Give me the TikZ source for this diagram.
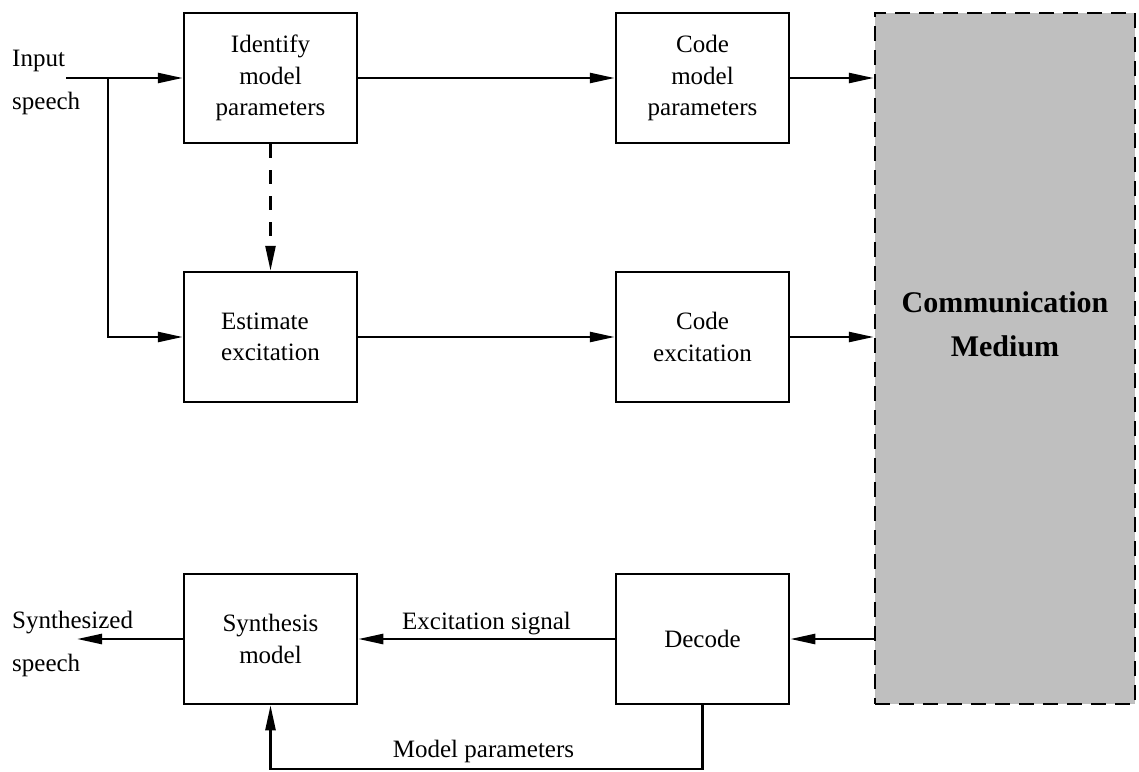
\documentclass[tikz,border=0pt]{standalone}
\usepackage{fontspec}
\setmainfont{Liberation Serif}
\usetikzlibrary{arrows.meta}
\definecolor{mediumgray}{RGB}{191,191,191}
\tikzset{
  blk/.style={draw, line width=2.5pt, minimum width=173pt, minimum height=130pt,
    inner sep=0pt, align=center, font=\fontsize{25}{31.5}\selectfont},
  wire/.style={line width=2.5pt},
  arr/.style={wire, -{Triangle[length=25pt,width=10pt]}},
  iolabel/.style={inner sep=0pt, align=left, font=\fontsize{25}{43}\selectfont},
  wirelabel/.style={inner sep=0pt, anchor=base, font=\fontsize{25}{30}\selectfont},
  channel/.style={draw, fill=mediumgray, line width=2.5pt, dash pattern=on 15pt off 9pt,
    minimum width=260pt, minimum height=691pt, inner sep=0pt},
}
\begin{document}
\begin{tikzpicture}[x=1pt,y=-1pt]
\useasboundingbox (0,0) rectangle (1139,771);

% encoder blocks
\node[blk] (ident) at (270.5,78) {Identify\\model\\parameters};
\node[blk] (codemp) at (702.5,78) {Code\\model\\parameters};
\node[blk, align=left] (estim) at (270.5,337) {Estimate\\excitation};
\node[blk] (codeex) at (702.5,337) {Code\\excitation};

% decoder blocks
\node[blk] (synth) at (270.5,639) {Synthesis\\model};
\node[blk] (decode) at (702.5,639) {Decode};

% channel
\node[channel] (medium) at (1005,358.5) {};
\node[align=center, inner sep=0pt, font=\fontsize{30}{44}\selectfont\bfseries]
  (medlabel) at ([yshift=34pt]medium.center) {Communication\\Medium};

% input / output labels
\node[iolabel, anchor=west] (inlabel) at (12,82.7) {Input\\speech};
\node[iolabel, anchor=west] (outlabel) at (12,644) {Synthesized\\speech};

\coordinate (inend) at (66,78);
\coordinate (branch) at (108,78);
\coordinate (outend) at (77,639);
\coordinate (mpright) at (702.5,769);
\coordinate (mpleft) at (270.5,769);

% analysis paths
\draw[arr] (inend) -- (ident.west);
\draw[arr] (branch) |- (estim.west);
\draw[arr] (ident.east) -- (codemp.west);
\draw[arr] (estim.east) -- (codeex.west);
\draw[arr, dash pattern=on 14pt off 12pt] (ident.south) -- (estim.north);

% into and out of the channel
\draw[arr] (codemp.east) -- (codemp.east -| medium.west);
\draw[arr] (codeex.east) -- (codeex.east -| medium.west);
\draw[arr] (decode.east -| medium.west) -- (decode.east);

% synthesis paths
\draw[arr] (decode.west) -- node[wirelabel, yshift=10pt] {Excitation signal} (synth.east);
\draw[arr] (decode.south) -- (mpright) -- node[wirelabel, yshift=12pt, xshift=-3pt] {Model parameters} (mpleft) -- (synth.south);
\draw[arr] (synth.west) -- (outend);
\end{tikzpicture}
\end{document}
